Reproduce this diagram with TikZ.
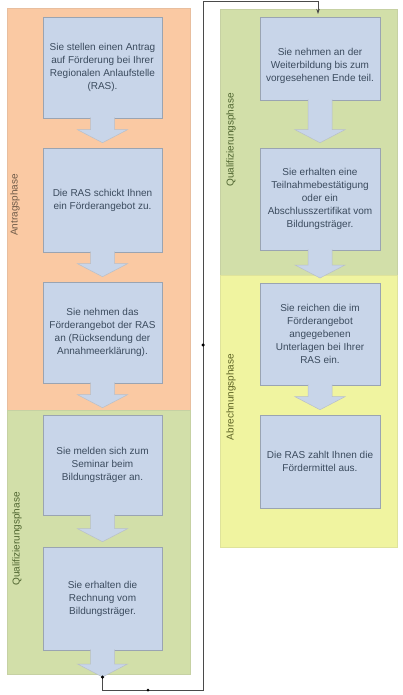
\documentclass[tikz,border=0pt]{standalone}
\usepackage{fontspec}
\setmainfont{Liberation Sans}
\usetikzlibrary{calc,arrows.meta}
\definecolor{orangeband}{HTML}{FAC9A3}
\definecolor{greenband}{HTML}{D2DFA9}
\definecolor{yellowband}{HTML}{F0F4A0}
\definecolor{boxfill}{HTML}{C8D5E9}
\definecolor{boxline}{HTML}{9AA4B2}
\definecolor{boxtext}{HTML}{3B4B5E}
\definecolor{linecol}{HTML}{4A4A4A}
\definecolor{labone}{HTML}{6E5A48}
\definecolor{labgreen}{HTML}{4F6530}
\definecolor{labyellow}{HTML}{5E6425}
\newcommand\blockarr[2]{%
  \path let \p1=(#1), \p2=(#2) in
    [fill=boxfill, draw=boxline!70, line width=0.5pt]
    (\x1-12pt,\y1+1pt) -- (\x1-12pt,\y2+13pt) -- (\x1-25pt,\y2+13pt) -- (\x1,\y2)
    -- (\x1+25pt,\y2+13pt) -- (\x1+12pt,\y2+13pt) -- (\x1+12pt,\y1+1pt);}
\begin{document}
\begin{tikzpicture}[x=1pt,y=-1pt,
  band/.style={anchor=north west, inner sep=0pt, draw=#1!85!gray, line width=0.4pt, fill=#1},
  stepbox/.style={draw=boxline, fill=boxfill, line width=0.6pt, inner sep=0pt,
    text=boxtext, font=\fontsize{10}{13}\selectfont, align=center},
  lbox/.style={stepbox, minimum width=119pt},
  rbox/.style={stepbox, minimum width=120pt},
  txt/.style={text=boxtext, font=\fontsize{10}{13}\selectfont, align=center, inner sep=0pt},
  phase/.style={rotate=90, font=\fontsize{10}{12}\selectfont, inner sep=0pt},
  conn/.style={draw=linecol, line width=1pt},
  dot/.style={circle, fill=black, inner sep=0pt, minimum size=3.5pt}]
\useasboundingbox (0,0) rectangle (403,695);
\fill[white] (0,0) rectangle (403,695);
% bands
\node[band=orangeband, minimum width=183pt, minimum height=402pt] (antrag) at (7,8) {};
\node[band=greenband, minimum width=183pt, minimum height=264pt] (qual1) at (7,410) {};
\node[band=greenband, minimum width=177pt, minimum height=266pt] (qual2) at (220,9) {};
\node[band=yellowband, minimum width=177pt, minimum height=272pt] (abr) at (220,275) {};
% phase labels
\node[phase, text=labone] (lab1) at (15,205) {Antragsphase};
\node[phase, text=labgreen] (lab2) at (17,539) {Qualifizierungsphase};
\node[phase, text=labgreen] (lab3) at (231,140) {Qualifizierungsphase};
\node[phase, text=labyellow] (lab4) at (231,397) {Abrechnungsphase};
% left boxes
\node[lbox, minimum height=101pt] (b1) at (102.5,67.5) {Sie stellen einen Antrag\\auf Förderung bei Ihrer\\Regionalen Anlaufstelle\\(RAS).};
\node[lbox, minimum height=104pt] (b2) at (102.5,200) {Die RAS schickt Ihnen\\ein Förderangebot zu.};
\node[lbox, minimum height=101pt] (b3) at (102.5,332.5) {Sie nehmen das\\Förderangebot der RAS\\an (Rücksendung der\\Annahmeerklärung).};
\node[lbox, minimum height=100pt] (b4) at (102.5,465) {Sie melden sich zum\\Seminar beim\\Bildungsträger an.};
\node[lbox, minimum height=103pt] (b5) at (102.5,598.5) {Sie erhalten die\\Rechnung vom\\Bildungsträger.};
% right boxes
\node[rbox, minimum height=83pt] (r1) at (320,58.5) {};
\node[txt] (r1t) at (320,66) {Sie nehmen an der\\Weiterbildung bis zum\\vorgesehenen Ende teil.};
\node[rbox, minimum height=102pt] (r2) at (320,199) {Sie erhalten eine\\Teilnahmebestätigung\\oder ein\\Abschlusszertifikat vom\\Bildungsträger.};
\node[rbox, minimum height=102pt] (r3) at (320,334) {Sie reichen die im\\Förderangebot\\angegebenen\\Unterlagen bei Ihrer\\RAS ein.};
\node[rbox, minimum height=93pt] (r4) at (320,461.5) {Die RAS zahlt Ihnen die\\Fördermittel aus.};
% tip coordinates
\coordinate (t1) at ($(b2.north)+(0,-5)$);
\coordinate (t2) at ($(b3.north)+(0,-5)$);
\coordinate (t3) at ($(b4.north)+(0,-7)$);
\coordinate (t4) at ($(b5.north)+(0,-5)$);
\coordinate (t5) at (102.5,677);
\coordinate (t6) at ($(r2.north)+(0,-5)$);
\coordinate (t7) at (320,278);
\coordinate (t8) at ($(r4.north)+(0,-5)$);
% block arrows
\blockarr{b1.south}{t1}
\blockarr{b2.south}{t2}
\blockarr{b3.south}{t3}
\blockarr{b4.south}{t4}
\blockarr{b5.south}{t5}
\blockarr{r1.south}{t6}
\blockarr{r2.south}{t7}
\blockarr{r3.south}{t8}
% connector
\coordinate (k1) at (102.5,690);
\coordinate (k2) at (203,690);
\coordinate (k3) at (203,1.5);
\coordinate (k4) at (318,1.5);
\coordinate (k5) at (318,14);
\draw[conn, -{Stealth[length=5pt,width=3.5pt]}] (t5) -- (k1) -- (k2) -- (k3) -- (k4) -- (k5);
\node[dot] (d1) at (t5) {};
\node[dot, minimum size=3pt] (d2) at (148,690) {};
\node[dot] (d3) at (203,345) {};
\end{tikzpicture}
\end{document}
